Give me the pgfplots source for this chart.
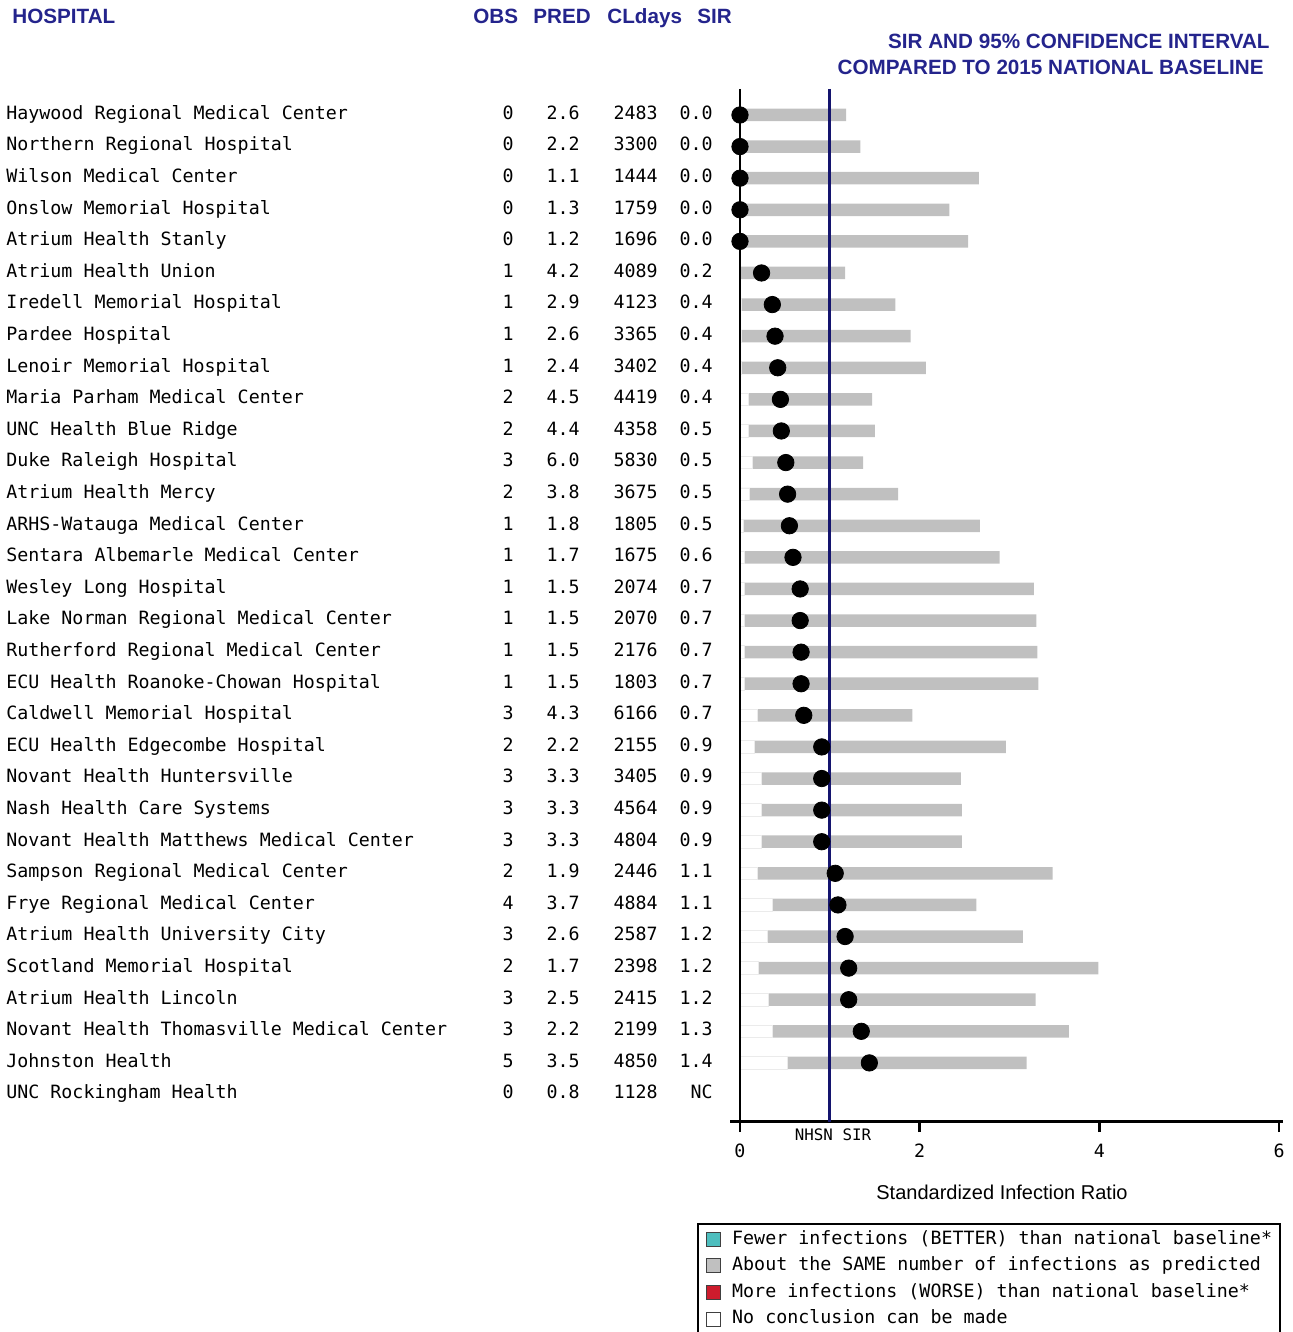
\documentclass[border=0pt]{standalone}
\usepackage{pgfplots}
\usepackage{pgfplotstable}
\pgfplotsset{compat=1.18}
\usepackage{fontspec}
\setmainfont{Liberation Sans}
\newfontfamily\mono{DejaVu Sans Mono}

\definecolor{hdrblue}{RGB}{36,36,140}
\definecolor{refnavy}{RGB}{20,20,110}
\definecolor{cigray}{RGB}{192,192,192}
\definecolor{better}{RGB}{77,190,190}
\definecolor{worse}{RGB}{205,28,45}

\newcommand\rowfont{\mono\fontsize{9.15}{11}\selectfont}
\newcommand\hdrfont{\fontsize{10.33}{12}\selectfont\bfseries\color{hdrblue}}

% CLABSI by hospital: observed, predicted, central-line days, SIR and 95% CI
\pgfplotstableread[col sep=comma]{
name,obs,pred,cldays,sirtxt,sir,lower,upper
Haywood Regional Medical Center,0,2.6,2483,0.0,0,0,1.18
Northern Regional Hospital,0,2.2,3300,0.0,0,0,1.34
Wilson Medical Center,0,1.1,1444,0.0,0,0,2.66
Onslow Memorial Hospital,0,1.3,1759,0.0,0,0,2.33
Atrium Health Stanly,0,1.2,1696,0.0,0,0,2.54
Atrium Health Union,1,4.2,4089,0.2,0.24,0.01,1.17
Iredell Memorial Hospital,1,2.9,4123,0.4,0.36,0.02,1.73
Pardee Hospital,1,2.6,3365,0.4,0.39,0.02,1.90
Lenoir Memorial Hospital,1,2.4,3402,0.4,0.42,0.02,2.07
Maria Parham Medical Center,2,4.5,4419,0.4,0.45,0.09,1.47
UNC Health Blue Ridge,2,4.4,4358,0.5,0.46,0.09,1.50
Duke Raleigh Hospital,3,6.0,5830,0.5,0.51,0.14,1.37
Atrium Health Mercy,2,3.8,3675,0.5,0.53,0.10,1.76
ARHS-Watauga Medical Center,1,1.8,1805,0.5,0.55,0.04,2.67
Sentara Albemarle Medical Center,1,1.7,1675,0.6,0.59,0.05,2.89
Wesley Long Hospital,1,1.5,2074,0.7,0.67,0.05,3.27
Lake Norman Regional Medical Center,1,1.5,2070,0.7,0.67,0.05,3.30
Rutherford Regional Medical Center,1,1.5,2176,0.7,0.68,0.05,3.31
ECU Health Roanoke-Chowan Hospital,1,1.5,1803,0.7,0.68,0.05,3.32
Caldwell Memorial Hospital,3,4.3,6166,0.7,0.71,0.19,1.92
ECU Health Edgecombe Hospital,2,2.2,2155,0.9,0.91,0.16,2.96
Novant Health Huntersville,3,3.3,3405,0.9,0.91,0.24,2.46
Nash Health Care Systems,3,3.3,4564,0.9,0.91,0.24,2.47
Novant Health Matthews Medical Center,3,3.3,4804,0.9,0.91,0.24,2.47
Sampson Regional Medical Center,2,1.9,2446,1.1,1.06,0.19,3.48
Frye Regional Medical Center,4,3.7,4884,1.1,1.09,0.36,2.63
Atrium Health University City,3,2.6,2587,1.2,1.17,0.31,3.15
Scotland Memorial Hospital,2,1.7,2398,1.2,1.21,0.21,3.99
Atrium Health Lincoln,3,2.5,2415,1.2,1.21,0.32,3.29
Novant Health Thomasville Medical Center,3,2.2,2199,1.3,1.35,0.36,3.66
Johnston Health,5,3.5,4850,1.4,1.44,0.53,3.19
UNC Rockingham Health,0,0.8,1128,NC,nan,nan,nan
}\hosp

\begin{document}
\begin{tikzpicture}
\path[use as bounding box] (0,0) rectangle (646.5pt,666pt);
\begin{axis}[
  at={(365pt,105pt)}, anchor=south west,
  scale only axis, width=276.5pt, height=516.5pt,
  xmin=-0.1111, xmax=6.0444, ymin=-32.87, ymax=-0.177,
  axis x line*=bottom, axis y line=none,
  axis line style={-},
  x axis line style={line width=1.5pt, -},
  xtick={0,2,4,6}, ytick=\empty,
  tick align=outside, major tick length=5pt,
  every tick/.style={black, line width=1.2pt},
  xticklabel style={font=\rowfont, yshift=-2.5pt},
  /pgf/number format/assume math mode=true,
  clip=false,
  legend image code/.code={\draw[draw=black!75, line width=0.5pt, #1] (0pt,-3.5pt) rectangle (7pt,3.5pt);},
  legend cell align=left,
  legend style={at={(-0.0597,-0.0978)}, anchor=north west,
    draw=black, line width=1.2pt, font=\rowfont,
    inner xsep=4pt, inner ysep=3pt, row sep=4.3pt, column sep=5.5pt,
    nodes={inner sep=0pt, text height=6.9pt, text depth=2.1pt}},
]
% confidence interval: grey up to the upper bound, white below the lower bound
\addplot[xbar, bar width=6.25pt, bar shift=0pt, fill=cigray, draw=none, forget plot]
  table[x=upper, y expr=-\coordindex-1] {\hosp};
\addplot[xbar, bar width=6.25pt, bar shift=0pt, fill=white, draw=black!8, line width=0.4pt, forget plot]
  table[x=lower, y expr=-\coordindex-1] {\hosp};
% national baseline SIR = 1
\addplot[refnavy, line width=1.5pt, forget plot] coordinates {(1,-0.177) (1,-32.87)};
% vertical axis line at zero
\addplot[black, line width=1.3pt, forget plot] coordinates {(0,-0.177) (0,-32.87)};
% SIR point estimates
\addplot[only marks, mark=*, mark size=4.1pt, black, forget plot]
  table[x=sir, y expr=-\coordindex-1] {\hosp};

\addlegendimage{fill=better}
\addlegendentry{Fewer infections (BETTER) than national baseline*}
\addlegendimage{fill=cigray}
\addlegendentry{About the SAME number of infections as predicted}
\addlegendimage{fill=worse}
\addlegendentry{More infections (WORSE) than national baseline*}
\addlegendimage{fill=white}
\addlegendentry{No conclusion can be made}
\end{axis}

\begin{scope}[x=0.5pt, y=-0.5pt, shift={(0pt,666pt)}]
  \node[anchor=base west, inner sep=0pt, font=\hdrfont] at (12,23.2) {HOSPITAL};
  \node[anchor=base west, inner sep=0pt, font=\hdrfont] at (473,23.2) {OBS};
  \node[anchor=base west, inner sep=0pt, font=\hdrfont] at (533,23.2) {PRED};
  \node[anchor=base west, inner sep=0pt, font=\hdrfont] at (607,23.2) {CLdays};
  \node[anchor=base west, inner sep=0pt, font=\hdrfont] at (697,23.2) {SIR};
  \node[anchor=base east, inner sep=0pt, font=\hdrfont] at (1270,48.3) {SIR AND 95\% CONFIDENCE INTERVAL};
  \node[anchor=base east, inner sep=0pt, font=\hdrfont] at (1264,74.3) {COMPARED TO 2015 NATIONAL BASELINE};
  \node[anchor=base, inner sep=0pt, font=\fontsize{10}{12}\selectfont] at (1002,1200) {Standardized Infection Ratio};
  \node[anchor=base, inner sep=0pt, font=\mono\fontsize{7.9}{9}\selectfont] at (833,1140.8) {NHSN SIR};
  \foreach \col/\xx/\anc in {name/6/west, obs/514/east, pred/580/east, cldays/658/east, sirtxt/713/east} {
    \pgfplotstableforeachcolumnelement{\col}\of\hosp\as\cell{%
      \node[anchor=base \anc, inner sep=0pt, font=\rowfont] at (\xx, {119.3+31.6*\pgfplotstablerow}) {\cell};
    }
  }
\end{scope}
\end{tikzpicture}
\end{document}
